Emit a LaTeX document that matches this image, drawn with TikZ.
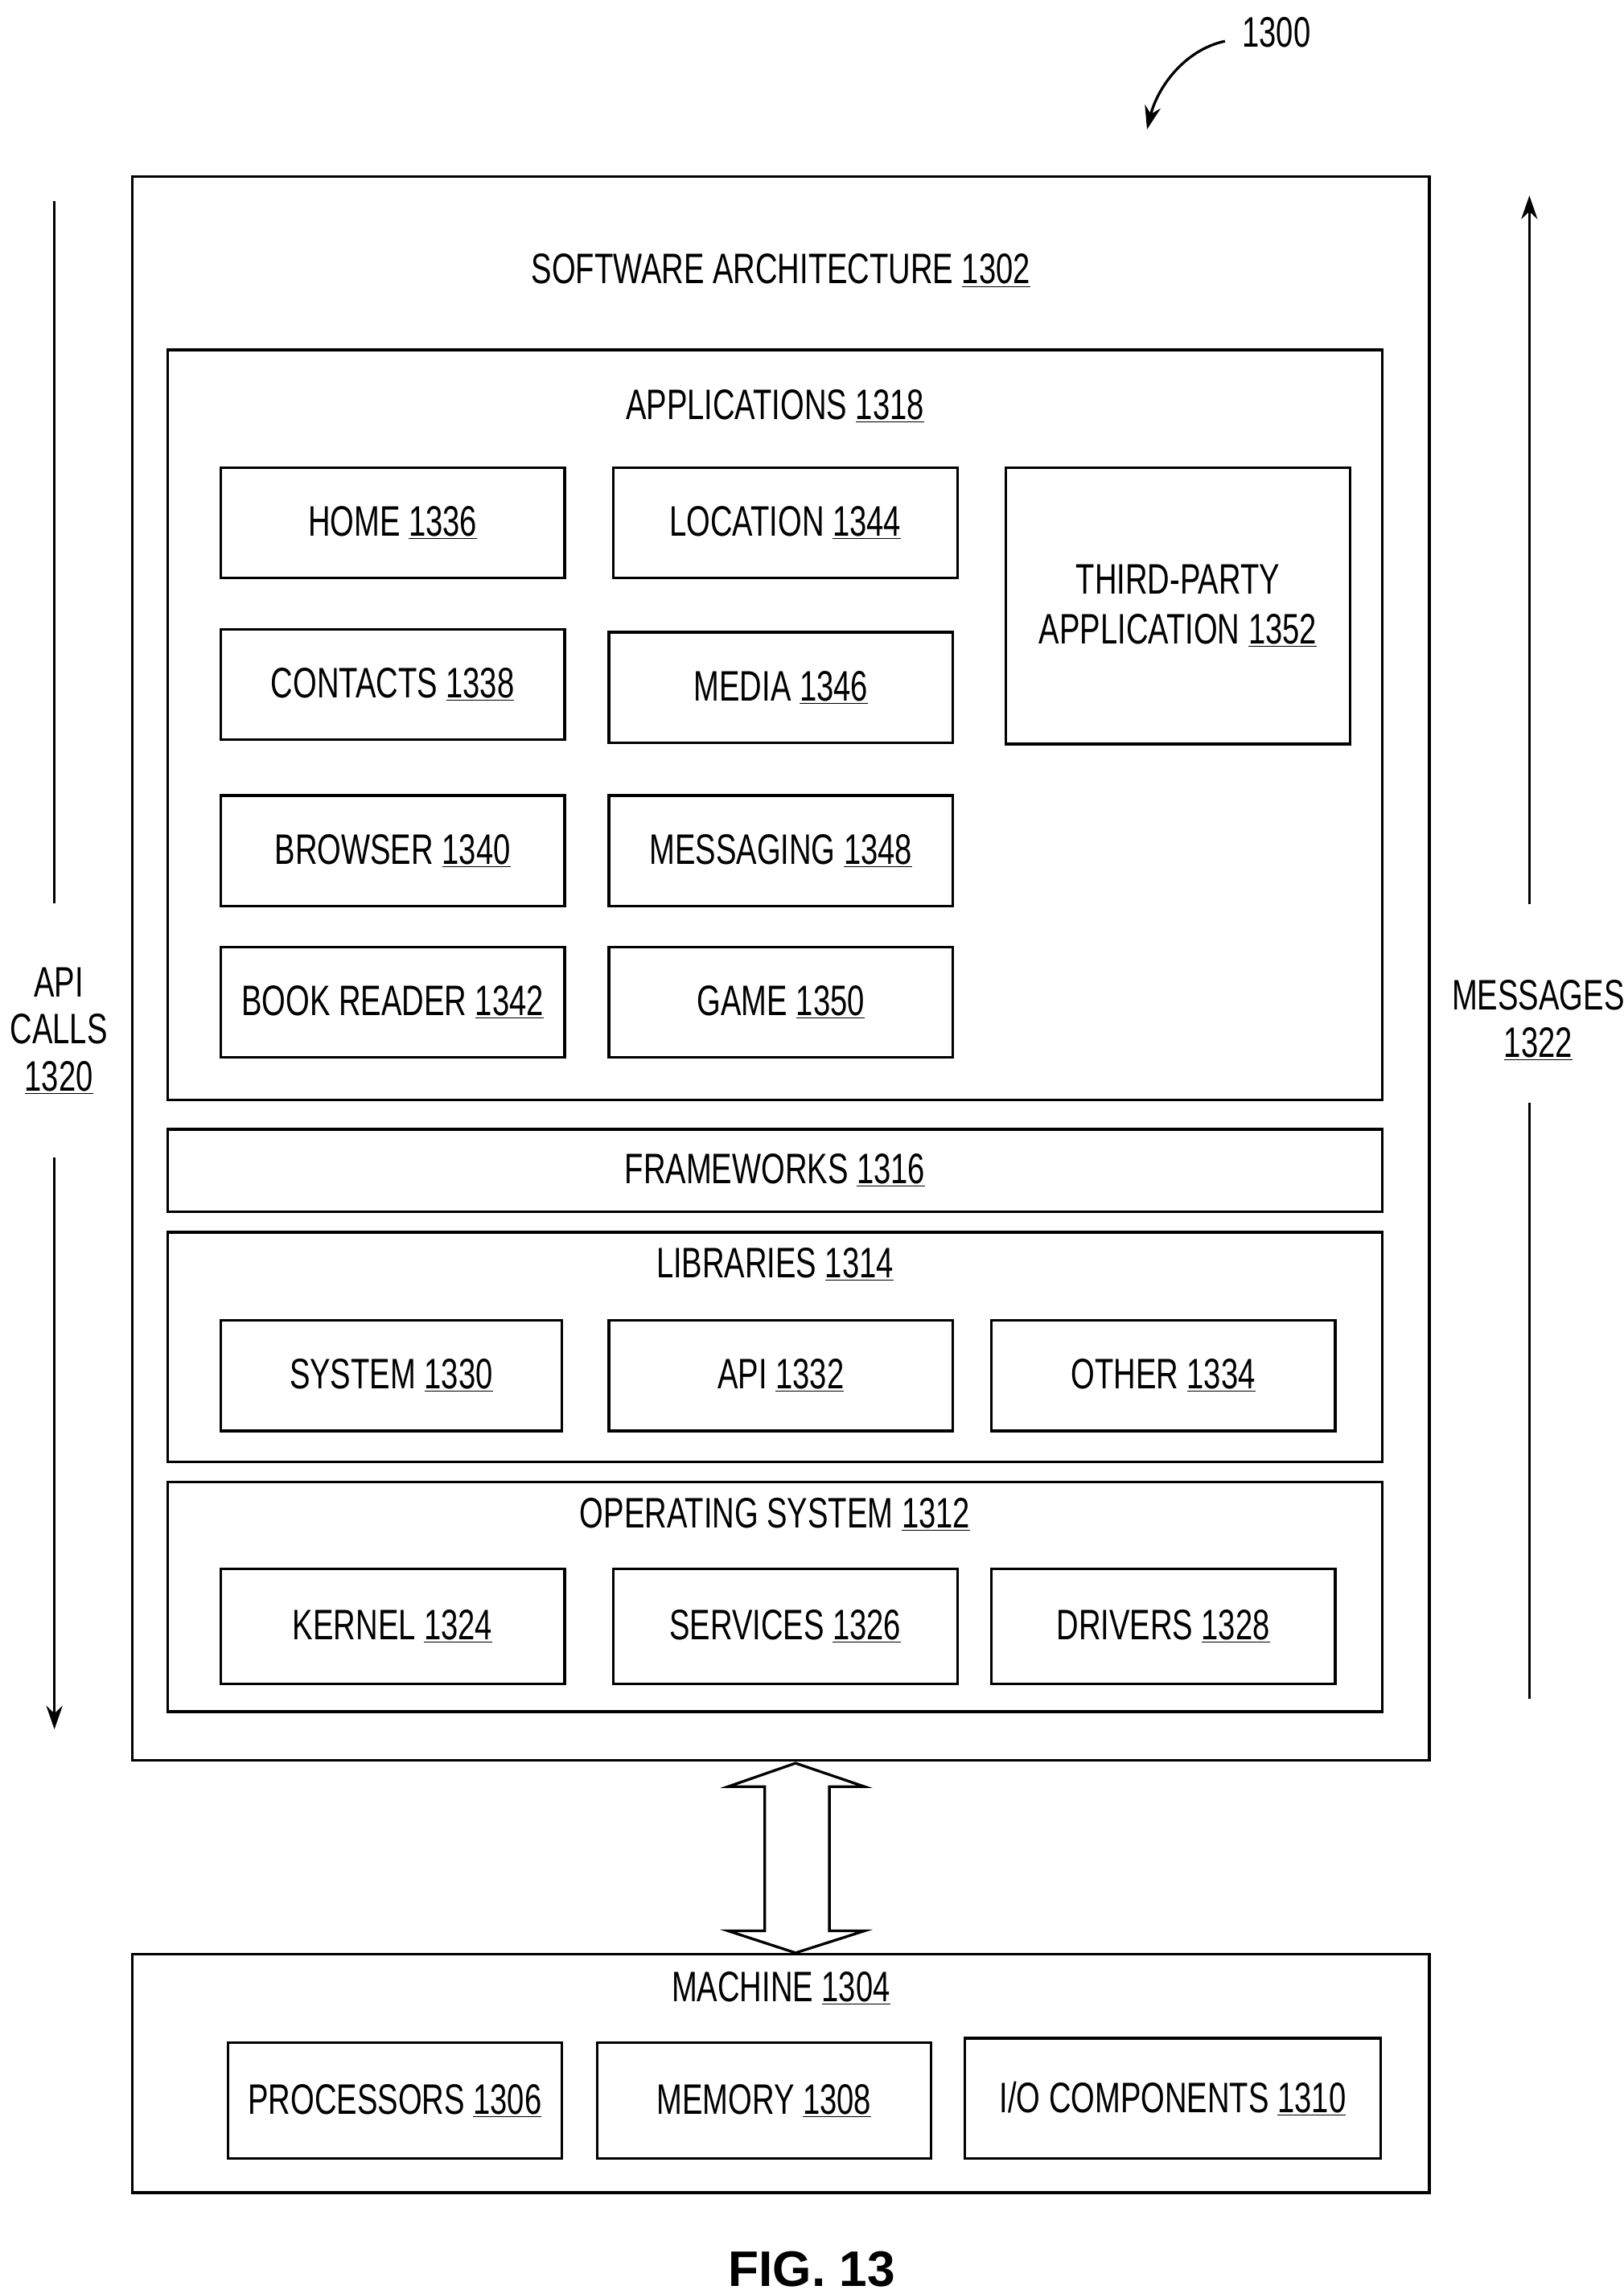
\documentclass[tikz,border=0pt]{standalone}
\usepackage{fontspec}
\setmainfont{Liberation Sans}[FakeStretch=0.72]
\newfontfamily\figfont{Liberation Sans}
\usetikzlibrary{arrows.meta}
\newcommand{\nm}[1]{\underline{#1}}
\begin{document}
\begin{tikzpicture}[x=1pt,y=-1pt,line width=1.8pt,
  box/.style={draw,rectangle,inner sep=0pt,align=center,font=\fontsize{29}{34}\selectfont},
  lbl/.style={inner sep=0pt,align=center,font=\fontsize{29}{34}\selectfont},
  arr/.style={-{Stealth[length=16pt,width=11pt]}}]
\useasboundingbox (0,0) rectangle (1104,1560);
% outer
\node[box,minimum width=882,minimum height=1077] (sw) at (531,658.5) {};
\node[lbl] (swl) at (531,184) {SOFTWARE ARCHITECTURE \nm{1302}};
\node[box,minimum width=826,minimum height=510] (apps) at (527,493) {};
\node[lbl] (appsl) at (527,276) {APPLICATIONS \nm{1318}};
\node[box,minimum width=234,minimum height=75] (home) at (267,355.5) {HOME \nm{1336}};
\node[box,minimum width=234,minimum height=75] (loc) at (534,355.5) {LOCATION \nm{1344}};
\node[box,minimum width=234,minimum height=188] (third) at (801,412) {THIRD-PARTY\\APPLICATION \nm{1352}};
\node[box,minimum width=234,minimum height=75] (cont) at (267,465.5) {CONTACTS \nm{1338}};
\node[box,minimum width=234,minimum height=75] (media) at (531,467.5) {MEDIA \nm{1346}};
\node[box,minimum width=234,minimum height=75] (brow) at (267,578.5) {BROWSER \nm{1340}};
\node[box,minimum width=234,minimum height=75] (msg) at (531,578.5) {MESSAGING \nm{1348}};
\node[box,minimum width=234,minimum height=75] (book) at (267,681.5) {BOOK READER \nm{1342}};
\node[box,minimum width=234,minimum height=75] (game) at (531,681.5) {GAME \nm{1350}};
\node[box,minimum width=826,minimum height=56] (fw) at (527,796) {FRAMEWORKS \nm{1316}};
\node[box,minimum width=826,minimum height=156] (lib) at (527,916) {};
\node[lbl] (libl) at (527,860) {LIBRARIES \nm{1314}};
\node[box,minimum width=232,minimum height=75] (sys) at (266,935.5) {SYSTEM \nm{1330}};
\node[box,minimum width=234,minimum height=75] (api) at (531,935.5) {API \nm{1332}};
\node[box,minimum width=234,minimum height=75] (oth) at (791,935.5) {OTHER \nm{1334}};
\node[box,minimum width=826,minimum height=156] (os) at (527,1086) {};
\node[lbl] (osl) at (527,1030) {OPERATING SYSTEM \nm{1312}};
\node[box,minimum width=234,minimum height=78] (ker) at (267,1106) {KERNEL \nm{1324}};
\node[box,minimum width=234,minimum height=78] (serv) at (534,1106) {SERVICES \nm{1326}};
\node[box,minimum width=234,minimum height=78] (drv) at (791,1106) {DRIVERS \nm{1328}};
% machine
\node[box,minimum width=882,minimum height=162] (mach) at (531,1410) {};
\node[lbl] (machl) at (531,1352) {MACHINE \nm{1304}};
\node[box,minimum width=227,minimum height=79] (proc) at (268.5,1428.5) {PROCESSORS \nm{1306}};
\node[box,minimum width=227,minimum height=79] (mem) at (519.5,1428.5) {MEMORY \nm{1308}};
\node[box,minimum width=283,minimum height=82] (io) at (797.5,1427) {I/O COMPONENTS \nm{1310}};
% double arrow
\draw[fill=white] (541,1199) -- (588,1215) -- (564,1215) -- (564,1313) -- (588,1313) -- (541,1328) -- (495,1313) -- (520,1313) -- (520,1215) -- (495,1215) -- cycle;
% api calls
\node[lbl] (apic) at (40,701) {API\\[-2pt]CALLS\\[-2pt]\nm{1320}};
\coordinate (a1) at (37,137); \coordinate (a2) at (37,614);
\coordinate (a3) at (37,787); \coordinate (a4) at (37,1176);
\draw (a1) -- (a2);
\draw[arr] (a3) -- (a4);
% messages
\node[lbl] (msgs) at (1046,694) {MESSAGES\\[-2pt]\nm{1322}};
\coordinate (m1) at (1040,1155); \coordinate (m2) at (1040,750);
\coordinate (m3) at (1040,615); \coordinate (m4) at (1040,133);
\draw (m1) -- (m2);
\draw[arr] (m3) -- (m4);
% ref label
\node[lbl] (ref) at (868,22) {1300};
\coordinate (r1) at (833,28); \coordinate (r2) at (780,88);
\draw[arr] (r1) .. controls (805,34) and (787,60) .. (r2);
\node[inner sep=0pt,font=\figfont\bfseries\fontsize{34}{40}\selectfont] (fig) at (552,1543) {FIG. 13};
\end{tikzpicture}
\end{document}
